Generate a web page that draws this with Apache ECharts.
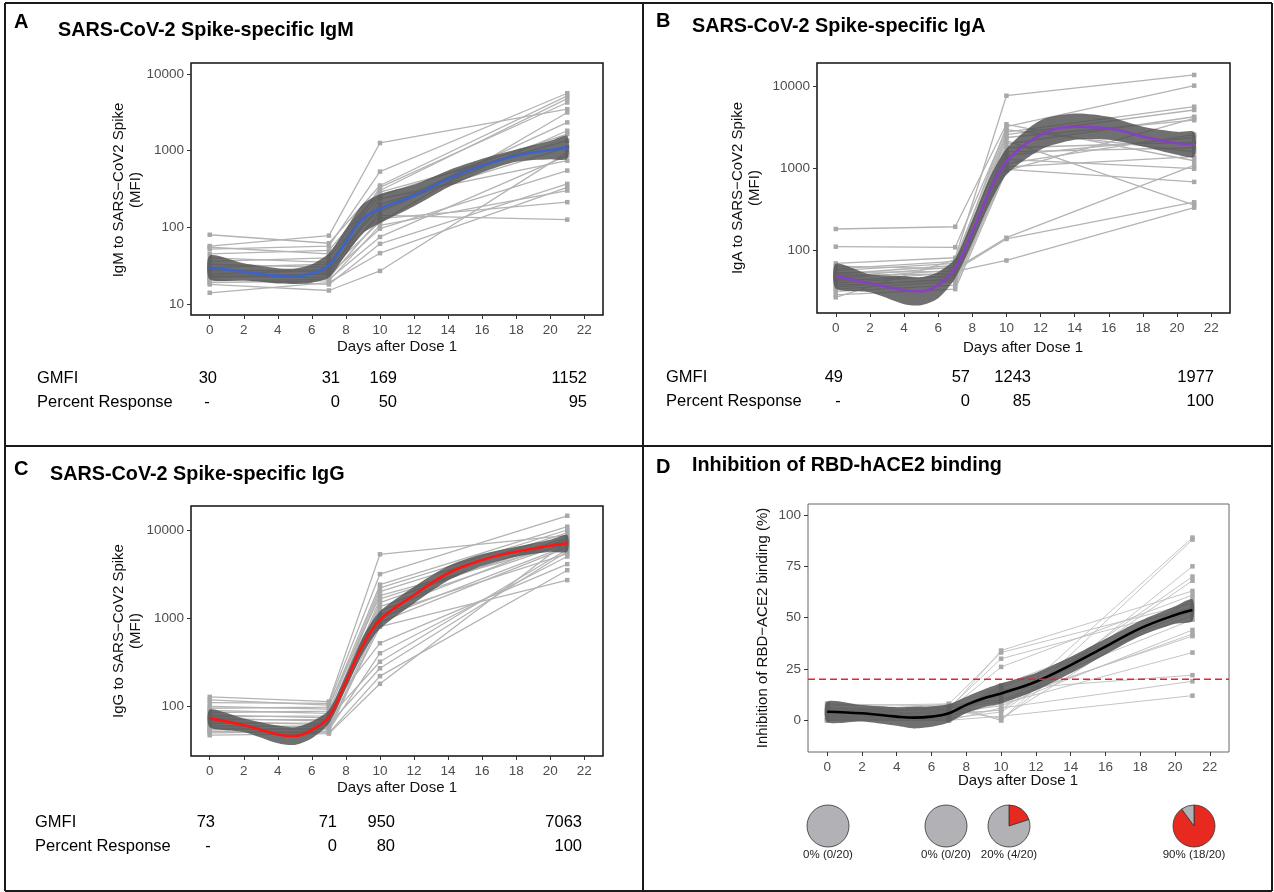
<!DOCTYPE html>
<html><head><meta charset="utf-8">
<script src="https://cdn.jsdelivr.net/npm/echarts@6/dist/echarts.min.js"></script>
<style>html,body{margin:0;padding:0;background:#fff}#c{width:1274px;height:892px}</style>
</head><body><div id="c"></div>
<script>
// ---------- shared ----------
const visitDays = [0, 7, 10, 21];
const xTicks = [0, 2, 4, 6, 8, 10, 12, 14, 16, 18, 20, 22];
const logTicks = [10, 100, 1000, 10000];
const pctTicks = [0, 25, 50, 75, 100];
const fitDays = [0, 2, 4, 5, 6, 7, 8, 9, 10, 12, 14, 16, 18, 20, 21];

// ---------- A: IgM ----------
const igmDay0  = [80, 57, 55, 52, 45, 40, 36, 33, 30, 28, 27, 25, 24, 23, 22, 21, 20, 19, 18, 14];
const igmDay7  = [62, 78, 45, 57, 50, 35, 40, 30, 33, 26, 28, 27, 24, 22, 25, 18, 21, 20, 15, 19];
const igmDay10 = [351, 1260, 287, 533, 302, 175, 260, 143, 333, 236, 117, 200, 96, 130, 160, 61, 75, 106, 27, 46];
const igmDay21 = [5180, 3480, 1350, 5610, 4780, 2335, 1645, 126, 4250, 741, 3150, 1105, 550, 213, 1820, 369, 861, 302, 951, 333];
const igmFit   = [30, 26.3, 23.3, 23, 25, 32, 65, 130, 175, 260, 429, 638, 861, 1020, 1105];
const igmLower = [21, 20.4, 18.5, 18.3, 19, 22.1, 44, 84, 113, 188, 333, 519, 716, 774, 782];
const igmUpper = [43, 33.9, 29.3, 29, 33, 46, 96, 201, 271, 359, 553, 785, 1035, 1344, 1561];
const igmGMFI  = ['30', '31', '169', '1152'];
const igmResp  = ['-', '0', '50', '95'];

// ---------- B: IgA ----------
const igaDay0  = [184, 112, 70, 65, 60, 57, 54, 52, 50, 48, 46, 44, 42, 40, 38, 36, 34, 32, 29, 27];
const igaDay7  = [196, 110, 82, 60, 74, 70, 56, 66, 52, 63, 58, 48, 54, 50, 44, 46, 42, 38, 34, 78];
const igaDay10 = [3480, 3000, 7760, 144, 3250, 2200, 76, 2600, 1800, 2400, 139, 2000, 1450, 1600, 1150, 1300, 980, 1050, 950, 2800];
const igaDay21 = [1250, 1600, 13900, 1100, 10300, 360, 335, 5200, 2100, 3900, 390, 4300, 2400, 1800, 2600, 1000, 690, 1400, 4100, 5700];
const igaFit   = [49, 40, 33, 32, 38, 61, 171, 525, 1215, 2580, 3250, 3110, 2460, 2040, 1980];
const igaLower = [34.7, 31.1, 22.3, 21.6, 26.3, 46.3, 124, 363, 841, 1704, 2249, 2254, 1866, 1478, 1401];
const igaUpper = [69.2, 51.5, 48.8, 47.3, 54.9, 80.4, 236, 759, 1756, 3906, 4696, 4292, 3242, 2815, 2798];
const igaGMFI  = ['49', '57', '1243', '1977'];
const igaResp  = ['-', '0', '85', '100'];

// ---------- C: IgG ----------
const iggDay0  = [128, 118, 110, 100, 95, 90, 85, 80, 76, 73, 70, 67, 64, 61, 58, 56, 54, 52, 50, 47];
const iggDay7  = [113, 103, 108, 93, 98, 83, 88, 74, 78, 68, 71, 62, 65, 58, 60, 54, 56, 50, 52, 49];
const iggDay10 = [5300, 1800, 3160, 520, 2400, 1350, 2200, 320, 2000, 1100, 1650, 270, 1500, 800, 1200, 400, 1000, 220, 900, 180];
const iggDay21 = [8700, 6900, 14500, 4100, 10900, 7100, 10000, 6000, 9300, 5400, 7700, 5700, 8300, 2700, 8000, 5000, 6600, 3500, 6300, 7400];
const iggFit   = [73, 61, 48, 46, 54, 76, 190, 496, 953, 1830, 3230, 4570, 5680, 6640, 7060];
const iggLower = [58, 51.2, 38.1, 36.5, 43.4, 63.8, 160, 398, 757, 1470, 2667, 3906, 4982, 5675, 5671];
const iggUpper = [91.9, 72.7, 60.4, 57.9, 67.2, 90.5, 226, 618, 1200, 2278, 3911, 5347, 6475, 7769, 8790];
const iggGMFI  = ['73', '71', '950', '7063'];
const iggResp  = ['-', '0', '80', '100'];

// ---------- D: RBD-hACE2 inhibition ----------
const rbdDay0  = [8, 8, 7, 6, 6, 5, 5, 4, 4, 3, 3, 2, 2, 1, 1, 0, 0, 0, 0, 0];
const rbdDay7  = [5, 7, 8, 4, 6, 3, 5, 8, 2, 6, 1, 4, 0, 3, 7, 2, 0, 1, 0, 5];
const rbdDay10 = [34, 0, 33, 12, 30, 5, 26, 0, 17, 9, 16, 7, 15, 5, 10, 8, 6, 4, 2, 1];
const rbdDay21 = [63, 88, 57, 49, 55, 89, 61, 75, 53, 42, 51, 44, 22, 70, 41, 33, 19, 68, 12, 59];
const rbdFit   = [4.2, 3.4, 1.8, 1.3, 1.8, 3.4, 7.5, 10.7, 13.1, 18.8, 26.9, 35.9, 44.8, 51.3, 53.7];
const rbdLower = [-0.8, -0.6, -2.7, -4.0, -3.2, -1.1, 3.5, 6.4, 8.2, 14.5, 22.9, 32.1, 41.1, 47.0, 48.4];
const rbdUpper = [9.2, 7.4, 6.3, 6.6, 6.8, 7.9, 11.5, 15.0, 18.0, 23.1, 30.9, 39.7, 48.5, 55.6, 59.0];
const rbdThreshold = 20;
const pieResponders = [0, 0, 4, 18];
const pieTotal = 20;
const pieLabels = ['0% (0/20)', '0% (0/20)', '20% (4/20)', '90% (18/20)'];

// ---------- build ----------
const FONT = "'Liberation Sans', Arial, Helvetica, sans-serif";
const chart = echarts.init(document.getElementById('c'), null, {renderer: 'canvas'});

const grids = [
  {left: 191, top: 63, width: 412, height: 252, borderColor: '#111', borderWidth: 1.5},
  {left: 817, top: 63, width: 413, height: 250, borderColor: '#111', borderWidth: 1.5},
  {left: 191, top: 506, width: 412, height: 250, borderColor: '#111', borderWidth: 1.5},
  {left: 808, top: 504, width: 421, height: 248, borderColor: '#666', borderWidth: 1}
].map(g => Object.assign({show: true, containLabel: false, outerBoundsMode: 'none', backgroundColor: 'transparent'}, g));

function xAxisFor(g) {
  return {
    type: 'value', gridIndex: g, min: -1.1, max: 23.1, position: 'bottom',
    axisLine: {show: false, onZero: false}, splitLine: {show: false},
    axisTick: {show: true, length: 4, customValues: xTicks, lineStyle: {color: '#333', width: 1}},
    axisLabel: {customValues: xTicks, margin: 8, color: '#4d4d4d', fontSize: 13.5, fontFamily: FONT}
  };
}
function yLogFor(g, mn, mx) {
  return {
    type: 'log', logBase: 10, gridIndex: g, min: mn, max: mx, position: 'left',
    axisLine: {show: false, onZero: false}, splitLine: {show: false}, minorTick: {show: false},
    axisTick: {show: true, length: 4, customValues: logTicks, lineStyle: {color: '#333', width: 1}},
    axisLabel: {customValues: logTicks, margin: 7, color: '#4d4d4d', fontSize: 13.5, fontFamily: FONT,
      formatter: v => String(Math.round(v))}
  };
}
const xAxes = [0, 1, 2, 3].map(xAxisFor);
const yAxes = [
  yLogFor(0, 7.186, 13920),
  yLogFor(1, 17.39, 19450),
  yLogFor(2, 27.3, 18720),
  {
    type: 'value', gridIndex: 3, min: -15.44, max: 105.36, position: 'left',
    axisLine: {show: false, onZero: false}, splitLine: {show: false},
    axisTick: {show: true, length: 4, customValues: pctTicks, lineStyle: {color: '#333', width: 1}},
    axisLabel: {customValues: pctTicks, margin: 7, color: '#4d4d4d', fontSize: 13.5, fontFamily: FONT}
  }
];

const series = [];
function addSubjects(g, d0, d7, d10, d21, lineW, lineC) {
  for (let i = 0; i < d0.length; i++) {
    const vals = [d0[i], d7[i], d10[i], d21[i]];
    series.push({
      type: 'line', xAxisIndex: g, yAxisIndex: g, silent: true, z: 2, animation: false,
      data: visitDays.map((d, k) => [d, vals[k]]),
      symbol: 'rect', symbolSize: 4.5, showSymbol: true, showAllSymbol: true,
      itemStyle: {color: '#a8a8a8'},
      lineStyle: {color: lineC, width: lineW}
    });
  }
}
function addRibbon(g, lower, upper) {
  series.push({
    type: 'custom', xAxisIndex: g, yAxisIndex: g, silent: true, z: 3, animation: false, clip: true,
    data: [[fitDays[0], lower[0]]],
    renderItem: function (params, api) {
      const pts = [];
      for (let i = 0; i < fitDays.length; i++) pts.push(api.coord([fitDays[i], upper[i]]));
      for (let i = fitDays.length - 1; i >= 0; i--) pts.push(api.coord([fitDays[i], lower[i]]));
      return {type: 'polygon', shape: {points: pts, smooth: 0.25}, style: {fill: 'rgba(80,80,80,0.82)'}};
    }
  });
}
function addFit(g, fit, color) {
  series.push({
    type: 'line', xAxisIndex: g, yAxisIndex: g, silent: true, z: 4, animation: false,
    data: fitDays.map((d, i) => [d, fit[i]]), smooth: 0.4, showSymbol: false, symbol: 'none',
    lineStyle: {color: color, width: 2.6}
  });
}

addSubjects(0, igmDay0, igmDay7, igmDay10, igmDay21, 1.3, '#b3b3b3');
addRibbon(0, igmLower, igmUpper);
addFit(0, igmFit, '#3D63C8');

addSubjects(1, igaDay0, igaDay7, igaDay10, igaDay21, 1.3, '#b3b3b3');
addRibbon(1, igaLower, igaUpper);
addFit(1, igaFit, '#8541C2');

addSubjects(2, iggDay0, iggDay7, iggDay10, iggDay21, 1.3, '#b3b3b3');
addRibbon(2, iggLower, iggUpper);
addFit(2, iggFit, '#FF1414');

addSubjects(3, rbdDay0, rbdDay7, rbdDay10, rbdDay21, 0.9, '#bdbdbd');
addRibbon(3, rbdLower, rbdUpper);
addFit(3, rbdFit, '#000000');
series.push({
  type: 'line', xAxisIndex: 3, yAxisIndex: 3, silent: true, z: 5, animation: false,
  data: [[-1.1, rbdThreshold], [23.1, rbdThreshold]], symbol: 'none',
  lineStyle: {color: '#E8232A', width: 1.5, type: [7, 4]}
});

// pies
const pieCenters = [828, 946, 1009, 1194];
pieResponders.forEach((r, i) => {
  const items = [
    {value: r, itemStyle: {color: '#E8291F'}},
    {value: pieTotal - r, itemStyle: {color: '#B1B1B6'}}
  ].filter(it => it.value > 0);
  series.push({
    type: 'pie', center: [pieCenters[i], 826], radius: 21, startAngle: 90, clockwise: true,
    silent: true, animation: false, label: {show: false}, labelLine: {show: false},
    itemStyle: {borderColor: '#333', borderWidth: 0.8},
    data: items
  });
});

// ---------- text & frame ----------
const g = [];
function txt(x, y, s, size, opts) {
  opts = opts || {};
  g.push({
    type: 'text', x: x, y: y, rotation: opts.rot || 0, silent: true, z: 100,
    style: {
      text: s, fill: opts.color || '#000',
      font: (opts.bold ? 'bold ' : '') + size + 'px ' + FONT,
      textAlign: opts.align || 'left', align: opts.align || 'left',
      textVerticalAlign: 'middle', verticalAlign: 'middle',
      lineHeight: opts.lh || size * 1.15
    }
  });
}
function line(x1, y1, x2, y2) {
  g.push({type: 'line', silent: true, z: 100, shape: {x1, y1, x2, y2}, style: {stroke: '#1a1a1a', lineWidth: 2}});
}
// frame
line(5, 3, 1272, 3); line(5, 3, 5, 891); line(1272, 3, 1272, 891); line(5, 891, 1272, 891);
line(643, 3, 643, 891); line(5, 446, 1272, 446);

// panel letters + titles
txt(14, 22, 'A', 20, {bold: true}); txt(58, 31, 'SARS-CoV-2 Spike-specific IgM', 19.8, {bold: true});
txt(656, 21, 'B', 20, {bold: true}); txt(692, 27, 'SARS-CoV-2 Spike-specific IgA', 19.8, {bold: true});
txt(14, 469, 'C', 20, {bold: true}); txt(50, 475, 'SARS-CoV-2 Spike-specific IgG', 19.8, {bold: true});
txt(656, 467, 'D', 20, {bold: true}); txt(692, 466, 'Inhibition of RBD-hACE2 binding', 19.8, {bold: true});

// axis titles
txt(127, 190, 'IgM to SARS\u2212CoV2 Spike\n(MFI)', 15, {align: 'center', rot: Math.PI / 2, lh: 17, color: '#111'});
txt(746, 188, 'IgA to SARS\u2212CoV2 Spike\n(MFI)', 15, {align: 'center', rot: Math.PI / 2, lh: 17, color: '#111'});
txt(127, 631, 'IgG to SARS\u2212CoV2 Spike\n(MFI)', 15, {align: 'center', rot: Math.PI / 2, lh: 17, color: '#111'});
txt(763, 628, 'Inhibition of RBD\u2212ACE2 binding (%)', 15, {align: 'center', rot: Math.PI / 2, color: '#111'});
txt(397, 347, 'Days after Dose 1', 15, {align: 'center', color: '#111'});
txt(1023, 348, 'Days after Dose 1', 15, {align: 'center', color: '#111'});
txt(397, 788, 'Days after Dose 1', 15, {align: 'center', color: '#111'});
txt(1018, 781, 'Days after Dose 1', 15, {align: 'center', color: '#111'});

// tables
function table(x0, yG, yP, gmfi, resp, pos) {
  txt(x0, yG, 'GMFI', 16.5); txt(x0, yP, 'Percent Response', 16.5);
  txt(pos[0], yG, gmfi[0], 16.5, {align: 'right'});
  txt(pos[1], yP, resp[0], 16.5, {align: 'center'});
  for (let k = 1; k < 4; k++) {
    txt(pos[k + 1], yG, gmfi[k], 16.5, {align: 'right'});
    txt(pos[k + 1], yP, resp[k], 16.5, {align: 'right'});
  }
}
table(37, 378, 402, igmGMFI, igmResp, [217, 207, 340, 397, 587]);
table(666, 377, 401, igaGMFI, igaResp, [843, 838, 970, 1031, 1214]);
table(35, 822, 846, iggGMFI, iggResp, [215, 208, 337, 395, 582]);

// pie labels
pieLabels.forEach((s, i) => txt(pieCenters[i], 855, s, 11.5, {align: 'center', color: '#222'}));

chart.setOption({
  animation: false,
  backgroundColor: '#fff',
  grid: grids, xAxis: xAxes, yAxis: yAxes, series: series,
  graphic: {elements: g}
});
</script></body></html>
